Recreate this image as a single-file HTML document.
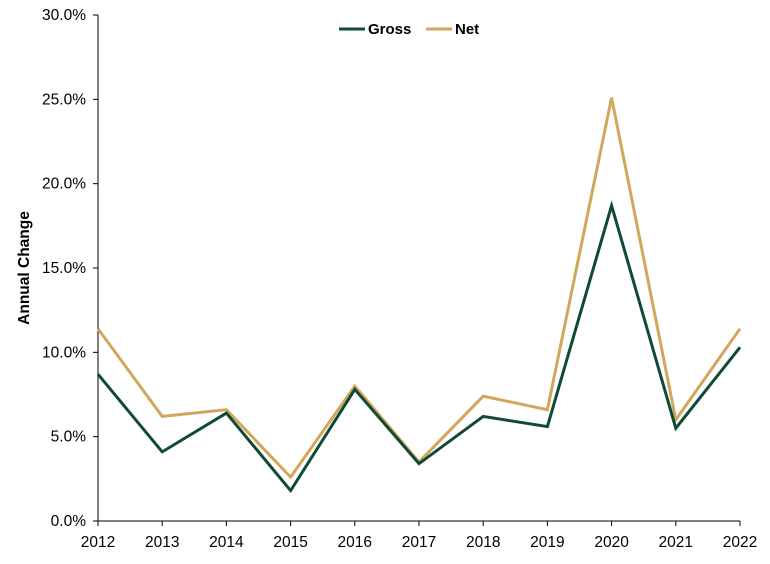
<!DOCTYPE html>
<html><head><meta charset="utf-8"><style>
body{margin:0;background:#fff;font-family:"Liberation Sans",Arial,sans-serif}
svg text{font-family:"Liberation Sans",Arial,sans-serif}
</style></head><body>
<svg id="c" width="770" height="559"></svg>
<script>
const years=[2012,2013,2014,2015,2016,2017,2018,2019,2020,2021,2022];
const gross=[8.7,4.1,6.4,1.8,7.8,3.4,6.2,5.6,18.7,5.5,10.3];
const net=[11.4,6.2,6.6,2.6,8.0,3.5,7.4,6.6,25.1,6.0,11.4];
const yTicks=[0,5,10,15,20,25,30];
const NS="http://www.w3.org/2000/svg";
const svg=document.getElementById('c');
const x0=98,x1=740,y0=521,y1=15;
const xs=i=>x0+(x1-x0)*i/(years.length-1);
const ys=v=>y0-(y0-y1)*v/30;
function el(t,a){const e=document.createElementNS(NS,t);for(const k in a)e.setAttribute(k,a[k]);svg.appendChild(e);return e;}
let ax=el('line',{x1:x0,y1:y1,x2:x0,y2:y0,stroke:'#000','stroke-width':1});


let bx=el('line',{x1:x0,y1:y0,x2:x1,y2:y0,stroke:'#000','stroke-width':1});


yTicks.forEach(v=>{
  const tk=el('line',{x1:x0-5,y1:ys(v),x2:x0,y2:ys(v),stroke:'#000'});
  
  
  const t=el('text',{x:x0-12,y:ys(v)+5,'text-anchor':'end','font-size':15.5,fill:'#000'});
  t.textContent=v.toFixed(1)+'%';
  
  
});
years.forEach((y,i)=>{
  const tk=el('line',{x1:xs(i),y1:y0,x2:xs(i),y2:y0+5,stroke:'#000'});
  
  
  const t=el('text',{x:xs(i),y:y0+26,'text-anchor':'middle','font-size':15.5,fill:'#000'});
  t.textContent=y;
  
  
});
const yt=el('text',{x:29,y:268,'text-anchor':'middle','font-size':15.5,'font-weight':'bold',transform:'rotate(-90 29 268)'});
yt.textContent='Annual Change';


function line(data,color,name){
  const p=el('polyline',{points:data.map((v,i)=>xs(i)+','+ys(v)).join(' '),fill:'none',stroke:color,'stroke-width':3,'stroke-linejoin':'miter'});
  
  
}
line(net,'#d3a75b','net-line');
line(gross,'#0f4a36','gross-line');
[['Gross','#0f4a36',339],['Net','#d3a75b',426]].forEach(([n,c,x])=>{
  const l=el('line',{x1:x,y1:29,x2:x+26,y2:29,stroke:c,'stroke-width':3});
  
  
  const t=el('text',{x:x+29,y:34,'font-size':15,'font-weight':'bold'});
  t.textContent=n;
  
  
});
</script>
</body></html>
